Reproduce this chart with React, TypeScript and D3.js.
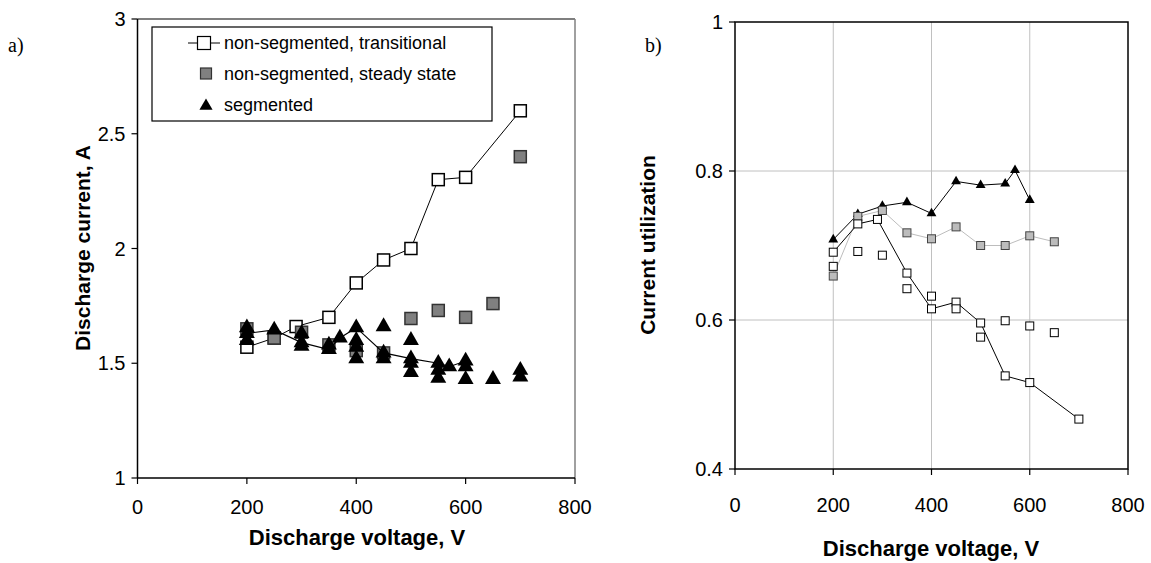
import React from "react";
import * as d3 from "d3";

// ---------- Panel a) data ----------
const transV = [200, 250, 290, 350, 400, 450, 500, 550, 600, 700];
const transI = [1.57, 1.61, 1.66, 1.70, 1.85, 1.95, 2.0, 2.30, 2.31, 2.60];
const steadyV = [200, 250, 300, 350, 400, 450, 500, 550, 600, 650, 700];
const steadyI = [1.65, 1.61, 1.635, 1.58, 1.555, 1.545, 1.695, 1.73, 1.70, 1.76, 2.40];
const segLineV = [200, 250, 300, 350, 370, 400, 450, 500, 550, 570, 600];
const segLineI = [1.63, 1.645, 1.59, 1.56, 1.61, 1.655, 1.545, 1.52, 1.50, 1.485, 1.51];
const segPtsV = [200, 200, 300, 300, 350, 400, 400, 400, 450, 450, 500, 500, 500, 550, 550, 600, 600, 650, 700, 700];
const segPtsI = [1.655, 1.60, 1.63, 1.575, 1.58, 1.60, 1.57, 1.52, 1.66, 1.52, 1.60, 1.50, 1.46, 1.47, 1.435, 1.485, 1.43, 1.43, 1.47, 1.44];
const aXTicks = [0, 200, 400, 600, 800];
const aYTicks = [1, 1.5, 2, 2.5, 3];
const legendLabels = ["non-segmented, transitional", "non-segmented, steady state", "segmented"];

// ---------- Panel b) data ----------
const bSegV = [200, 250, 300, 350, 400, 450, 500, 550, 570, 600];
const bSegU = [0.708, 0.742, 0.753, 0.758, 0.743, 0.786, 0.781, 0.783, 0.801, 0.761];
const bSteadyV = [200, 250, 300, 350, 400, 450, 500, 550, 600, 650];
const bSteadyU = [0.659, 0.739, 0.747, 0.717, 0.709, 0.725, 0.700, 0.700, 0.713, 0.705];
const bTransV = [200, 250, 290, 350, 400, 450, 500, 550, 600, 700];
const bTransU = [0.691, 0.729, 0.735, 0.663, 0.615, 0.624, 0.596, 0.525, 0.516, 0.467];
const bScatV = [200, 250, 300, 350, 400, 450, 500, 550, 600, 650];
const bScatU = [0.672, 0.692, 0.687, 0.642, 0.632, 0.615, 0.577, 0.599, 0.592, 0.583];
const bXTicks = [0, 200, 400, 600, 800];
const bYTicks = [0.4, 0.6, 0.8, 1];

const FONT = "Arial, 'Liberation Sans', sans-serif";
const SERIF = "'Liberation Serif', 'Times New Roman', serif";

const zip = (xs: number[], ys: number[]) => xs.map((x, i) => [x, ys[i]] as [number, number]);

function tri(size: number) {
  return d3.symbol(d3.symbolTriangle, size)() as string;
}

export default function App() {
  // Panel a scales
  const ax = d3.scaleLinear().domain([0, 800]).range([137.5, 575]);
  const ay = d3.scaleLinear().domain([1, 3]).range([478, 19]);
  // Panel b scales
  const bx = d3.scaleLinear().domain([0, 800]).range([735, 1128]);
  const by = d3.scaleLinear().domain([0.4, 1]).range([469, 22]);

  const aLine = d3.line<[number, number]>().x((d) => ax(d[0])).y((d) => ay(d[1]));
  const bLine = d3.line<[number, number]>().x((d) => bx(d[0])).y((d) => by(d[1]));

  const aSq = 12;
  const bSq = 8;
  const aTri = tri(110);
  const bTri = tri(42);

  return (
    <svg width={1151} height={563} style={{ position: "absolute", left: 0, top: 0, background: "#fff" }}>
      <rect x={0} y={0} width={1151} height={563} fill="#fff" />
      {/* ===== Panel a ===== */}
      <text x={8} y={52} fontFamily={SERIF} fontSize={20}>a)</text>
      <line x1={ax(0)} x2={ax(800)} y1={ay(3)} y2={ay(3)} stroke="#000" strokeWidth={1.2} />
      <line x1={ax(800)} x2={ax(800)} y1={ay(3)} y2={ay(1)} stroke="#808080" strokeWidth={1.5} />
      <line x1={ax(0)} x2={ax(0)} y1={ay(3)} y2={ay(1)} stroke="#000" strokeWidth={1.5} />
      <line x1={ax(0)} x2={ax(800)} y1={ay(1)} y2={ay(1)} stroke="#000" strokeWidth={1.5} />
      {aYTicks.map((t) => (
        <g key={"ay" + t}>
          <line x1={ax(0) - 6} x2={ax(0)} y1={ay(t)} y2={ay(t)} stroke="#000" strokeWidth={1.2} />
          <text x={ax(0) - 12} y={ay(t)} dy="0.35em" textAnchor="end" fontFamily={FONT} fontSize={20}>{t}</text>
        </g>
      ))}
      {aXTicks.map((t) => (
        <g key={"ax" + t}>
          <line x1={ax(t)} x2={ax(t)} y1={ay(1)} y2={ay(1) + 6} stroke="#000" strokeWidth={1.2} />
          <text x={ax(t)} y={507} dy="0.35em" textAnchor="middle" fontFamily={FONT} fontSize={20}>{t}</text>
        </g>
      ))}
      <text x={357} y={537} dy="0.35em" textAnchor="middle" fontFamily={FONT} fontSize={22} fontWeight="bold">Discharge voltage, V</text>
      <text transform={`translate(83,248) rotate(-90)`} dy="0.35em" textAnchor="middle" fontFamily={FONT} fontSize={21} fontWeight="bold">Discharge current, A</text>

      {/* transitional */}
      <path d={aLine(zip(transV, transI)) as string} fill="none" stroke="#000" strokeWidth={1} />
      {zip(transV, transI).map((d, i) => (
        <rect key={"at" + i} x={ax(d[0]) - aSq / 2} y={ay(d[1]) - aSq / 2} width={aSq} height={aSq} fill="#fff" stroke="#000" strokeWidth={1.5} />
      ))}
      {/* steady state */}
      {zip(steadyV, steadyI).map((d, i) => (
        <rect key={"as" + i} x={ax(d[0]) - aSq / 2} y={ay(d[1]) - aSq / 2} width={aSq} height={aSq} fill="#808080" stroke="#333" strokeWidth={1.5} />
      ))}
      {/* segmented */}
      <path d={aLine(zip(segLineV, segLineI)) as string} fill="none" stroke="#000" strokeWidth={1.2} />
      {zip(segLineV, segLineI).concat(zip(segPtsV, segPtsI)).map((d, i) => (
        <path key={"ag" + i} d={aTri} transform={`translate(${ax(d[0])},${ay(d[1])})`} fill="#000" />
      ))}

      {/* legend */}
      <rect x={152} y={27} width={340} height={94} fill="#fff" stroke="#000" strokeWidth={1.2} />
      <line x1={188} x2={220} y1={43} y2={43} stroke="#000" strokeWidth={1} />
      <rect x={197.5} y={36.5} width={13} height={13} fill="#fff" stroke="#000" strokeWidth={1.2} />
      <rect x={200.5} y={68} width={11} height={11} fill="#808080" stroke="#333" strokeWidth={1.2} />
      <path d={tri(75)} transform={`translate(206,106)`} fill="#000" />
      {legendLabels.map((l, i) => (
        <text key={l} x={224} y={43 + i * 31} dy="0.35em" fontFamily={FONT} fontSize={18}>{l}</text>
      ))}

      {/* ===== Panel b ===== */}
      <text x={645} y={52} fontFamily={SERIF} fontSize={20}>b)</text>
      {[200, 400, 600].map((t) => (
        <line key={"bgx" + t} x1={bx(t)} x2={bx(t)} y1={by(1)} y2={by(0.4)} stroke="#c0c0c0" strokeWidth={1} />
      ))}
      {[0.6, 0.8].map((t) => (
        <line key={"bgy" + t} x1={bx(0)} x2={bx(800)} y1={by(t)} y2={by(t)} stroke="#c0c0c0" strokeWidth={1} />
      ))}
      <rect x={bx(0)} y={by(1)} width={bx(800) - bx(0)} height={by(0.4) - by(1)} fill="none" stroke="#000" strokeWidth={1.5} />
      {bYTicks.map((t) => (
        <g key={"by" + t}>
          <line x1={bx(0) - 6} x2={bx(0)} y1={by(t)} y2={by(t)} stroke="#000" strokeWidth={1.2} />
          <text x={bx(0) - 12} y={by(t)} dy="0.35em" textAnchor="end" fontFamily={FONT} fontSize={20}>{t}</text>
        </g>
      ))}
      {bXTicks.map((t) => (
        <g key={"bx" + t}>
          <line x1={bx(t)} x2={bx(t)} y1={by(0.4)} y2={by(0.4) + 6} stroke="#000" strokeWidth={1.2} />
          <text x={bx(t)} y={505} dy="0.35em" textAnchor="middle" fontFamily={FONT} fontSize={20}>{t}</text>
        </g>
      ))}
      <text x={931} y={548} dy="0.35em" textAnchor="middle" fontFamily={FONT} fontSize={22} fontWeight="bold">Discharge voltage, V</text>
      <text transform={`translate(648,245) rotate(-90)`} dy="0.35em" textAnchor="middle" fontFamily={FONT} fontSize={21} fontWeight="bold">Current utilization</text>

      {/* segmented */}
      <path d={bLine(zip(bSegV, bSegU)) as string} fill="none" stroke="#000" strokeWidth={1} />
      {zip(bSegV, bSegU).map((d, i) => (
        <path key={"bg" + i} d={bTri} transform={`translate(${bx(d[0])},${by(d[1])})`} fill="#000" />
      ))}
      {/* steady */}
      <path d={bLine(zip(bSteadyV, bSteadyU)) as string} fill="none" stroke="#bdbdbd" strokeWidth={1} />
      {zip(bSteadyV, bSteadyU).map((d, i) => (
        <rect key={"bs" + i} x={bx(d[0]) - bSq / 2} y={by(d[1]) - bSq / 2} width={bSq} height={bSq} fill="#bcbcbc" stroke="#444" strokeWidth={1} />
      ))}
      {/* transitional */}
      <path d={bLine(zip(bTransV, bTransU)) as string} fill="none" stroke="#000" strokeWidth={1} />
      {zip(bTransV, bTransU).map((d, i) => (
        <rect key={"bt" + i} x={bx(d[0]) - bSq / 2} y={by(d[1]) - bSq / 2} width={bSq} height={bSq} fill="#fff" stroke="#000" strokeWidth={1} />
      ))}
      {/* scatter open squares */}
      {zip(bScatV, bScatU).map((d, i) => (
        <rect key={"bc" + i} x={bx(d[0]) - bSq / 2} y={by(d[1]) - bSq / 2} width={bSq} height={bSq} fill="#fff" stroke="#000" strokeWidth={1} />
      ))}
    </svg>
  );
}
